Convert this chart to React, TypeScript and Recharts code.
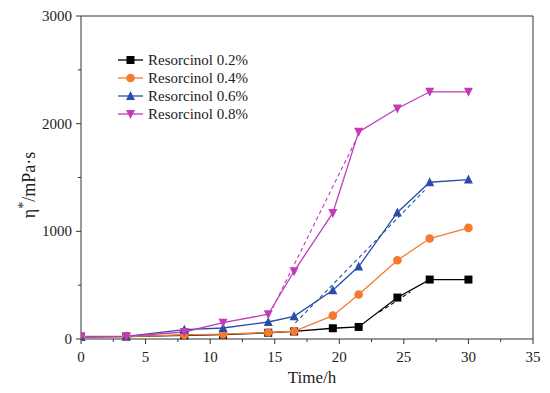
import React from 'react';
import { LineChart, Line, XAxis, YAxis, ReferenceLine } from 'recharts';

const times = [0, 3.5, 8, 11, 14.5, 16.5, 19.5, 21.5, 24.5, 27, 30];
const r02 = [20, 22, 35, 40, 58, 70, 100, 112, 385, 552, 552];
const r04 = [20, 22, 38, 45, 60, 72, 217, 413, 731, 933, 1032];
const r06 = [20, 25, 87, 102, 158, 211, 453, 673, 1175, 1456, 1481];
const r08 = [25, 25, 65, 152, 230, 629, 1171, 1924, 2141, 2296, 2296];

// dashed linear fits over the growth stage
const fit02 = [{ t: 23.1, v: 250 }, { t: 25.5, v: 437 }];
const fit06 = [{ t: 16.6, v: 150 }, { t: 26.6, v: 1380 }];
const fit08 = [{ t: 14.6, v: 230 }, { t: 21.3, v: 1850 }];

const xTicks = [0, 2.5, 5, 7.5, 10, 12.5, 15, 17.5, 20, 22.5, 25, 27.5, 30, 32.5, 35];
const yTicks = [0, 500, 1000, 1500, 2000, 2500, 3000];

const FONT = '"Liberation Serif", "Times New Roman", serif';
const AXIS = '#333';

const series = [
  { key: 'a', name: 'Resorcinol 0.2%', color: '#000000', shape: 'square' },
  { key: 'b', name: 'Resorcinol 0.4%', color: '#f47a30', shape: 'circle' },
  { key: 'c', name: 'Resorcinol 0.6%', color: '#2b4da8', shape: 'up' },
  { key: 'd', name: 'Resorcinol 0.8%', color: '#c23bb8', shape: 'down' },
];

const rows = times.map((t, i) => ({ t, a: r02[i], b: r04[i], c: r06[i], d: r08[i] }));

const Marker = ({ cx, cy, shape, color }: any) => {
  if (cx == null || cy == null) return null;
  const s = 4;
  if (shape === 'square') return <rect x={cx - s} y={cy - s} width={2 * s} height={2 * s} fill={color} />;
  if (shape === 'circle') return <circle cx={cx} cy={cy} r={s + 0.3} fill={color} />;
  if (shape === 'up')
    return <polygon points={`${cx},${cy - s - 1} ${cx - s - 0.5},${cy + s} ${cx + s + 0.5},${cy + s}`} fill={color} />;
  return <polygon points={`${cx},${cy + s + 1} ${cx - s - 0.5},${cy - s} ${cx + s + 0.5},${cy - s}`} fill={color} />;
};

const XTick = ({ x, y, payload }: any) => {
  const major = payload.value % 5 === 0;
  return (
    <g>
      <line x1={x} y1={y} x2={x} y2={y + (major ? 5 : 3)} stroke={AXIS} />
      {major && (
        <text x={x} y={y + 23} textAnchor="middle" fontSize={15} fontFamily={FONT} fill="#222">
          {payload.value}
        </text>
      )}
    </g>
  );
};

const YTick = ({ x, y, payload }: any) => {
  const major = payload.value % 1000 === 0;
  return (
    <g>
      <line x1={x} y1={y} x2={x - (major ? 5 : 3)} y2={y} stroke={AXIS} />
      {major && (
        <text x={x - 9} y={y + 5} textAnchor="end" fontSize={15} fontFamily={FONT} fill="#222">
          {payload.value}
        </text>
      )}
    </g>
  );
};

const LegendBox = () => (
  <g transform="translate(116,52)">
    {series.map((s, i) => {
      const y = 8 + i * 18;
      return (
        <g key={s.key}>
          <line x1={2} x2={27} y1={y} y2={y} stroke={s.color} strokeWidth={1.3} />
          <Marker cx={14.5} cy={y} shape={s.shape} color={s.color} />
          <text x={32} y={y + 5} fontSize={15} fontFamily={FONT} fill="#222">
            {s.name}
          </text>
        </g>
      );
    })}
  </g>
);

export default function App() {
  return (
    <div style={{ position: 'absolute', left: 0, top: 0, width: 550, height: 393, background: '#fff' }}>
      <LineChart width={550} height={393} data={rows} margin={{ top: 16, right: 17, left: 0, bottom: 0 }}>
        <XAxis
          dataKey="t"
          type="number"
          domain={[0, 35]}
          ticks={xTicks}
          interval={0}
          tickSize={0}
          tickMargin={0}
          tickLine={false}
          tick={<XTick />}
          height={54}
          stroke={AXIS}
          allowDataOverflow
        />
        <YAxis
          type="number"
          domain={[0, 3000]}
          ticks={yTicks}
          interval={0}
          tickSize={0}
          tickMargin={0}
          tickLine={false}
          tick={<YTick />}
          width={81}
          stroke={AXIS}
        />
        <ReferenceLine y={3000} stroke={AXIS} />
        <ReferenceLine x={35} stroke={AXIS} />
        {series.map((s) => (
          <Line
            key={s.key}
            dataKey={s.key}
            name={s.name}
            stroke={s.color}
            strokeWidth={1.3}
            isAnimationActive={false}
            dot={(p: any) => <Marker key={`${s.key}-${p.index}`} cx={p.cx} cy={p.cy} shape={s.shape} color={s.color} />}
            activeDot={false}
          />
        ))}
        <Line data={fit02} dataKey="v" stroke="#000000" strokeWidth={1.1} strokeDasharray="4 3" dot={false} legendType="none" isAnimationActive={false} />
        <Line data={fit06} dataKey="v" stroke="#2b4da8" strokeWidth={1.1} strokeDasharray="4 3" dot={false} legendType="none" isAnimationActive={false} />
        <Line data={fit08} dataKey="v" stroke="#c23bb8" strokeWidth={1.1} strokeDasharray="4 3" dot={false} legendType="none" isAnimationActive={false} />
      </LineChart>
      <svg width={550} height={393} style={{ position: 'absolute', left: 0, top: 0, pointerEvents: 'none' }}>
        <LegendBox />
        <text x={312} y={383} textAnchor="middle" fontSize={17} fontFamily={FONT} fill="#222">
          Time/h
        </text>
        <text transform="translate(35,185) rotate(-90)" textAnchor="middle" fontSize={18} fontFamily={FONT} fill="#222">
          η<tspan dy={-7} fontSize={14}>*</tspan>
          <tspan dy={7}>/mPa·s</tspan>
        </text>
      </svg>
    </div>
  );
}
